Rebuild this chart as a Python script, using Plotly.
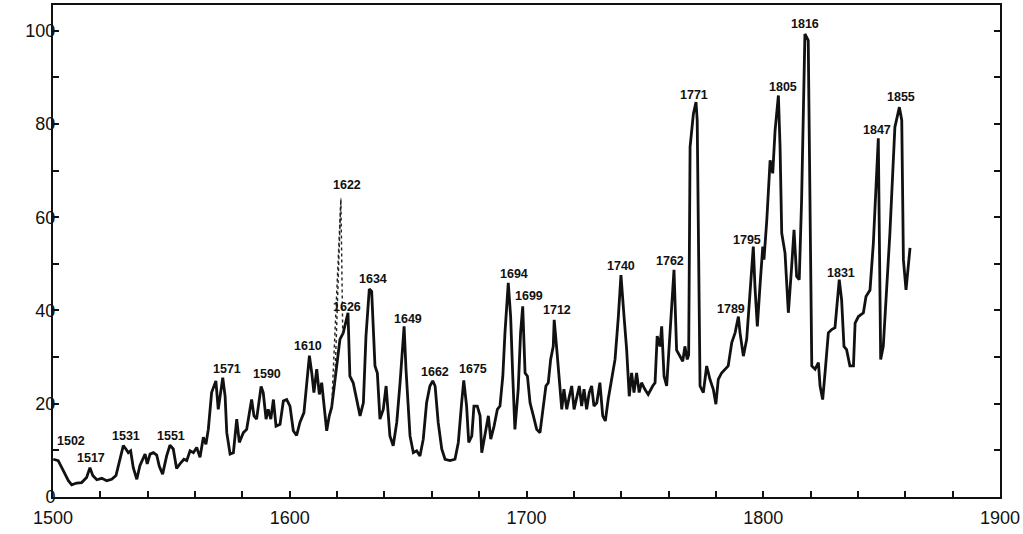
import plotly.graph_objects as go

# Series (year, value)
years = [
    1500.1, 1502.2, 1504.4, 1506.5, 1507.9, 1510.0, 1512.1, 1514.2, 1515.6, 1516.8,
    1518.5, 1520.6, 1522.7, 1524.8, 1526.6, 1528.3, 1529.7, 1530.8, 1531.8, 1532.8,
    1533.9, 1535.4, 1536.7, 1537.9, 1538.9, 1539.8, 1541.0, 1542.4, 1543.8, 1544.9,
    1546.3, 1548.0, 1549.4, 1550.8, 1552.2, 1553.6, 1555.3, 1556.5, 1557.9, 1559.3,
    1560.7, 1562.1, 1563.5, 1564.6, 1565.6, 1567.0, 1568.8, 1569.8, 1571.7, 1572.7,
    1573.4, 1574.8, 1576.2, 1577.6, 1578.7, 1580.4, 1581.8, 1583.2, 1583.9, 1584.9,
    1586.0, 1587.9, 1588.8, 1590.0, 1590.9, 1592.0, 1593.1, 1594.2, 1595.9, 1597.3,
    1598.7, 1600.1, 1601.5, 1602.9, 1604.3, 1606.0, 1607.2, 1608.3, 1609.3, 1610.2,
    1611.4, 1612.5, 1613.5, 1614.5, 1615.6, 1616.7, 1617.7, 1621.2, 1622.6, 1624.6,
    1625.4, 1626.8, 1628.3, 1629.7, 1631.1, 1632.2, 1633.6, 1634.6, 1636.0, 1637.0,
    1638.1, 1639.5, 1640.7, 1641.6, 1642.3, 1643.7, 1645.2, 1646.6, 1648.3, 1649.1,
    1650.1, 1650.8, 1652.2, 1653.6, 1655.0, 1656.4, 1657.8, 1659.2, 1660.4, 1661.4,
    1662.7, 1664.2, 1665.6, 1667.7, 1669.8, 1671.2, 1672.6, 1673.5, 1674.7, 1675.6,
    1676.9, 1677.8, 1679.2, 1680.4, 1681.1, 1682.5, 1683.9, 1684.9, 1686.3, 1687.7,
    1688.8, 1690.0, 1690.9, 1692.3, 1693.3, 1694.2, 1695.1, 1696.5, 1697.5, 1698.4,
    1699.4, 1700.4, 1701.5, 1702.9, 1704.3, 1705.7, 1707.1, 1708.2, 1709.2, 1710.2,
    1711.3, 1711.7, 1712.8, 1713.9, 1714.9, 1715.8, 1717.0, 1718.1, 1719.1, 1720.1,
    1721.2, 1722.3, 1723.3, 1724.3, 1725.4, 1726.5, 1727.5, 1728.5, 1729.7, 1731.0,
    1732.2, 1733.3, 1734.5, 1736.0, 1737.4, 1738.8, 1739.9, 1741.2, 1742.3, 1743.4,
    1744.4, 1745.4, 1746.5, 1747.6, 1748.6, 1750.0, 1751.4, 1753.3, 1754.3, 1755.2,
    1756.4, 1757.1, 1758.1, 1759.2, 1760.3, 1761.3, 1762.3, 1763.4, 1764.8, 1766.0,
    1766.9, 1767.9, 1768.5, 1769.1, 1770.5, 1771.6, 1772.1, 1773.3, 1774.7, 1776.1,
    1777.5, 1778.9, 1780.0, 1781.0, 1782.4, 1783.8, 1785.2, 1786.7, 1788.1, 1789.5,
    1790.2, 1791.6, 1793.0, 1794.4, 1795.8, 1796.5, 1797.5, 1798.6, 1799.8, 1800.3,
    1801.5, 1802.9, 1804.0, 1805.0, 1806.4, 1807.1, 1807.8, 1809.2, 1810.6, 1812.0,
    1813.0, 1814.1, 1815.2, 1816.2, 1817.6, 1819.0, 1819.7, 1820.5, 1821.9, 1823.3,
    1824.0, 1825.1, 1826.1, 1827.5, 1828.9, 1830.3, 1832.1, 1833.1, 1834.1, 1835.2,
    1836.6, 1838.1, 1838.8, 1840.2, 1842.3, 1843.4, 1845.1, 1846.5, 1848.6, 1849.0,
    1849.6, 1850.7, 1853.5, 1855.6, 1857.5, 1858.5, 1859.2, 1860.3, 1861.3, 1862.0,
]
values = [
    8.1, 7.8, 5.6, 3.5, 2.6, 3.0, 3.1, 4.2, 6.3, 4.6,
    3.7, 4.0, 3.5, 3.8, 4.6, 8.5, 11.0, 10.3, 9.5, 9.9,
    6.3, 3.8, 6.7, 8.1, 9.2, 7.1, 9.2, 9.5, 9.0, 6.6,
    4.9, 8.8, 11.1, 10.3, 6.1, 7.1, 8.1, 7.8, 9.9, 9.5,
    10.6, 8.5, 12.8, 11.3, 14.5, 22.4, 24.9, 18.8, 25.6, 21.6,
    13.8, 9.2, 9.5, 16.7, 11.7, 13.8, 14.5, 18.8, 20.9, 17.4,
    16.7, 23.7, 22.4, 16.7, 18.8, 16.7, 20.9, 15.2, 15.6, 20.6,
    20.9, 19.5, 14.2, 13.2, 16.0, 18.1, 23.8, 30.3, 26.6, 22.4,
    27.4, 22.0, 24.5, 20.2, 14.2, 17.4, 19.2, 33.8, 35.2, 39.5,
    25.9, 24.5, 20.9, 17.4, 20.2, 34.5, 44.6, 44.1, 28.1, 26.6,
    16.7, 18.8, 23.8, 17.4, 13.1, 11.0, 16.0, 24.5, 36.6, 27.4,
    20.2, 13.1, 9.5, 9.9, 8.8, 12.4, 20.2, 23.8, 24.9, 23.8,
    16.0, 10.3, 8.1, 7.8, 8.1, 11.7, 20.2, 25.0, 19.5, 11.7,
    13.1, 19.5, 19.5, 17.4, 9.5, 13.1, 17.4, 12.4, 15.2, 18.8,
    19.5, 25.9, 35.2, 45.9, 38.7, 25.9, 14.5, 23.1, 35.2, 40.9,
    26.6, 25.9, 20.2, 17.4, 14.5, 13.8, 18.8, 23.8, 24.5, 29.5,
    32.3, 38.0, 31.6, 24.5, 18.8, 23.1, 18.8, 21.6, 23.8, 18.8,
    21.6, 23.8, 19.5, 23.1, 18.8, 22.4, 23.8, 19.5, 20.2, 24.5,
    17.4, 16.3, 20.9, 25.9, 29.5, 38.7, 47.6, 38.7, 31.6, 21.6,
    26.6, 22.4, 26.6, 22.4, 24.5, 23.1, 22.0, 23.8, 24.5, 34.5,
    32.3, 36.6, 25.9, 23.8, 32.3, 42.3, 48.7, 31.5, 30.2, 29.1,
    32.3, 29.5, 30.5, 75.1, 82.2, 84.7, 80.8, 23.8, 22.4, 28.1,
    25.2, 23.1, 19.9, 25.2, 26.6, 27.4, 28.1, 33.1, 35.2, 38.7,
    35.2, 30.2, 33.8, 43.7, 53.7, 45.1, 36.6, 45.1, 53.7, 50.9,
    59.4, 72.2, 69.4, 78.6, 86.1, 75.1, 56.6, 52.3, 39.5, 49.4,
    57.3, 47.3, 46.6, 63.7, 99.3, 97.9, 56.6, 28.1, 27.4, 28.8,
    23.8, 20.9, 26.6, 35.2, 35.9, 36.3, 46.6, 42.3, 32.3, 31.6,
    28.1, 28.1, 37.3, 38.7, 39.5, 43.0, 44.4, 54.4, 76.9, 56.6,
    29.5, 32.3, 56.6, 79.3, 83.6, 80.8, 50.9, 44.4, 50.9, 53.4,
]

# Dotted (uncertain) excursion around 1622
dotted_years_a = [1617.7, 1621.6, 1622.4]
dotted_values_a = [19.2, 64.0, 34.5]
dotted_years_b = [1619.0, 1621.6]
dotted_values_b = [24.0, 64.0]

# Peak labels and where they sit on the picture
peak_labels = ["1502", "1517", "1531", "1551", "1571", "1590", "1610", "1622",
               "1626", "1634", "1649", "1662", "1675", "1694", "1699", "1712",
               "1740", "1762", "1771", "1789", "1795", "1805", "1816", "1831",
               "1847", "1855"]
label_x = [1507.4, 1516.0, 1530.8, 1549.8, 1573.5, 1590.4, 1607.7, 1624.2,
           1624.2, 1635.2, 1650.0, 1661.4, 1677.4, 1694.7, 1701.0, 1712.9,
           1739.9, 1760.6, 1770.7, 1786.4, 1793.1, 1808.3, 1817.6, 1833.0,
           1848.0, 1858.2]
label_y = [12.0, 8.3, 13.0, 13.0, 27.4, 26.3, 32.3, 66.9,
           40.8, 46.8, 38.2, 26.7, 27.4, 47.9, 43.2, 40.0,
           49.6, 50.6, 86.3, 40.4, 55.1, 88.0, 101.5, 48.1,
           78.8, 85.7]

x_tick_vals = [1500, 1600, 1700, 1800, 1900]
y_tick_vals = [0, 20, 40, 60, 80, 100]

fig = go.Figure()
fig.add_trace(go.Scatter(x=years, y=values, mode="lines",
                         line=dict(color="#111111", width=2.8),
                         hoverinfo="skip", showlegend=False))
for dx, dy in [(dotted_years_a, dotted_values_a), (dotted_years_b, dotted_values_b)]:
    fig.add_trace(go.Scatter(x=dx, y=dy, mode="lines",
                             line=dict(color="#222222", width=1.4, dash="dot"),
                             hoverinfo="skip", showlegend=False))

for t, lx, ly in zip(peak_labels, label_x, label_y):
    fig.add_annotation(x=lx, y=ly, text="<b>" + t + "</b>", showarrow=False,
                       font=dict(family="Liberation Sans, Arial", size=12.5, color="#111111"))

fig.update_layout(
    width=1023, height=534,
    margin=dict(l=53, r=23, t=5, b=37, autoexpand=False),
    paper_bgcolor="white", plot_bgcolor="white",
    font=dict(family="Liberation Sans, Arial", color="#111111"),
    showlegend=False,
)
fig.update_xaxes(range=[1500, 1900], tickvals=x_tick_vals,
                 ticktext=[str(v) for v in x_tick_vals], automargin=False,
                 ticks="inside", ticklen=6, tickwidth=1.5, tickcolor="#111111",
                 ticklabelstandoff=3,
                 minor=dict(dtick=20, ticks="inside", ticklen=6, tickwidth=1.5,
                            tickcolor="#111111", showgrid=False),
                 showline=True, linecolor="#111111", linewidth=2, mirror=True,
                 showgrid=False, zeroline=False,
                 tickfont=dict(size=18, color="#111111"))
fig.update_yaxes(range=[0, 105.5], tickvals=y_tick_vals, automargin=False,
                 ticks="inside", ticklen=6, tickwidth=1.5, tickcolor="#111111",
                 ticklabelstandoff=-8,
                 minor=dict(dtick=10, ticks="inside", ticklen=6, tickwidth=1.5,
                            tickcolor="#111111", showgrid=False),
                 showline=True, linecolor="#111111", linewidth=2, mirror="ticks",
                 showgrid=False, zeroline=False,
                 tickfont=dict(size=18, color="#111111"))

fig.write_html("out.html", config={"displayModeBar": False},
               post_script="document.body.style.margin='0';document.body.style.padding='0';")
